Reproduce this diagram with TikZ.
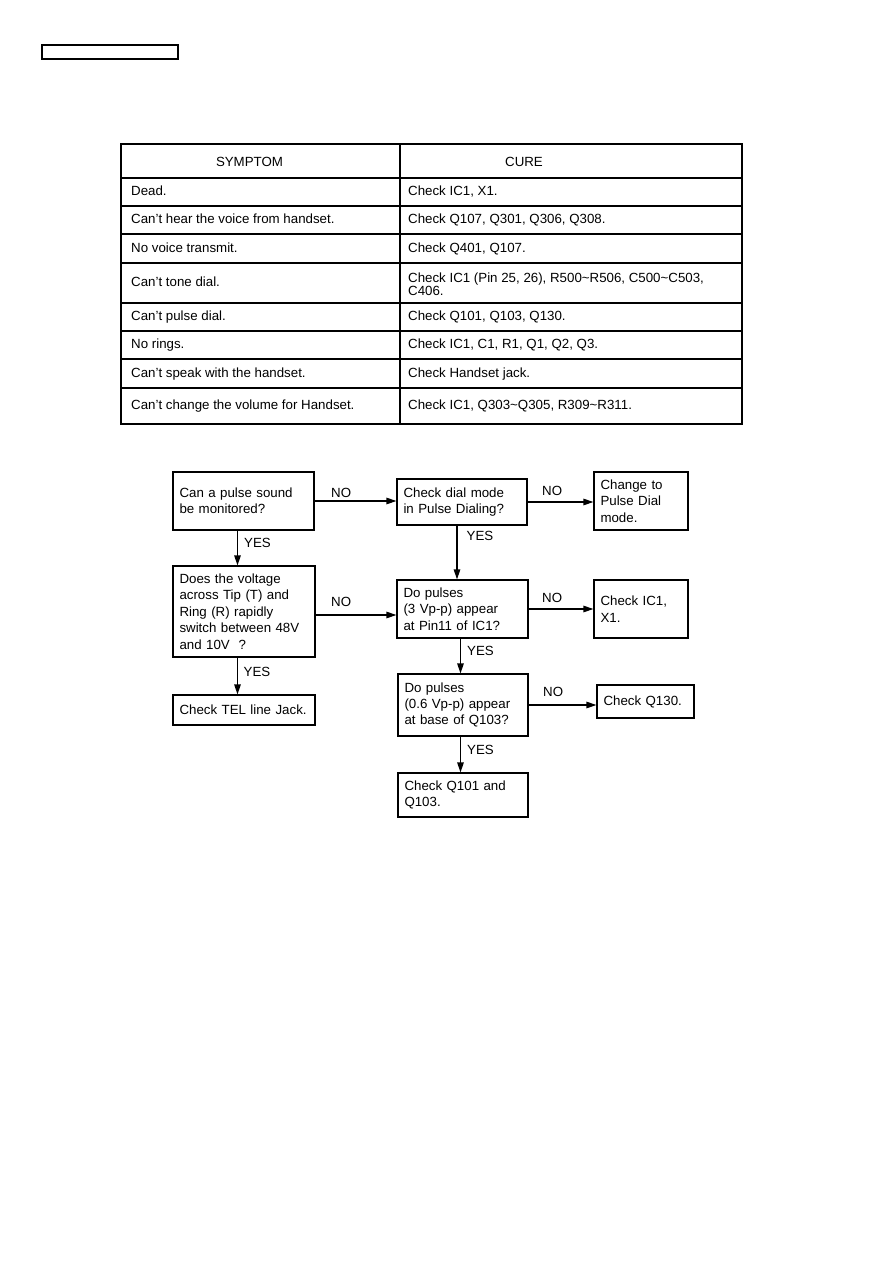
\documentclass[tikz,border=0pt]{standalone}
\usepackage{fontspec}
\setmainfont{Liberation Sans}
\usetikzlibrary{arrows.meta}
\newcommand\fsz{\fontsize{13.3}{16.4}\selectfont}
\begin{document}
\begin{tikzpicture}[x=1pt,y=-1pt,
  fbox/.style={draw, line width=1.2pt, inner xsep=6.5pt, inner ysep=0pt, align=left, font=\fsz},
  lbl/.style={inner sep=0pt, anchor=west, font=\fsz},
  cell/.style={lbl, text height=9.6pt, text depth=2.8pt},
  tline/.style={line width=1.1pt},
  arr/.style={line width=1.3pt, -{Triangle[length=10pt,width=6.5pt]}}]
\useasboundingbox (0,0) rectangle (893,1263);
% top-left empty box
\draw[line width=1.1pt] (42,45) rectangle (178,59);
% table
\draw[tline] (121,144) rectangle (742,424);
\draw[tline] (400,144) -- (400,424);
\foreach \yy in {178,206,234,263,303,331,359,388}
  \draw[tline] (121,\yy) -- (742,\yy);
\node[cell, anchor=center] (hs) at (249.5,163) {SYMPTOM};
\node[cell, anchor=center] (hc) at (524,163) {CURE};
\node[cell] (s1) at (131,192.5) {Dead.};
\node[cell] (s2) at (131,220.5) {Can't hear the voice from handset.};
\node[cell] (s3) at (131,249.5) {No voice transmit.};
\node[cell] (s4) at (131,283.5) {Can't tone dial.};
\node[cell] (s5) at (131,317.5) {Can't pulse dial.};
\node[cell] (s6) at (131,345.5) {No rings.};
\node[cell] (s7) at (131,374) {Can't speak with the handset.};
\node[cell] (s8) at (131,406.5) {Can't change the volume for Handset.};
\node[cell] (c1) at (408,192.5) {Check IC1, X1.};
\node[cell] (c2) at (408,220.5) {Check Q107, Q301, Q306, Q308.};
\node[cell] (c3) at (408,249.5) {Check Q401, Q107.};
\node[lbl, align=left, font=\fontsize{13.3}{11.2}\selectfont] (c4) at (408,284) {Check IC1 (Pin 25, 26), R500\textasciitilde R506, C500\textasciitilde C503,\\C406.};
\node[cell] (c5) at (408,317.5) {Check Q101, Q103, Q130.};
\node[cell] (c6) at (408,345.5) {Check IC1, C1, R1, Q1, Q2, Q3.};
\node[cell] (c7) at (408,374) {Check Handset jack.};
\node[cell] (c8) at (408,406.5) {Check IC1, Q303\textasciitilde Q305, R309\textasciitilde R311.};
% flowchart boxes
\node[fbox, text width=128pt, minimum height=58pt] (A) at (243.5,501) {Can a pulse sound\\be monitored?};
\node[fbox, text width=117pt, minimum height=46pt] (B) at (462,502) {Check dial mode\\in Pulse Dialing?};
\node[fbox, text width=81pt, minimum height=58pt] (C) at (641,501) {Change to\\Pulse Dial\\mode.};
\node[fbox, text width=129pt, minimum height=91pt] (D) at (244,611.5) {Does the voltage\\across Tip (T) and\\Ring (R) rapidly\\switch between 48V\\and 10V\ \ ?};
\node[fbox, text width=118pt, minimum height=58pt] (E) at (462.5,609) {Do pulses\\(3 Vp-p) appear\\at Pin11 of IC1?};
\node[fbox, text width=81pt, minimum height=58pt] (F) at (641,609) {Check IC1,\\X1.};
\node[fbox, text width=129pt, minimum height=30pt] (G) at (244,710) {Check TEL line Jack.};
\node[fbox, text width=117pt, minimum height=62pt] (H) at (463,705) {Do pulses\\(0.6 Vp-p) appear\\at base of Q103?};
\node[fbox, text width=84pt, minimum height=33pt] (I) at (645.5,701.5) {Check Q130.};
\node[fbox, text width=117pt, minimum height=44pt] (J) at (463,795) {Check Q101 and\\Q103.};
% arrow positions
\coordinate (xa) at (237.5,0);
\coordinate (xb) at (457,0);
\coordinate (xe) at (460.5,0);
\coordinate (yd) at (0,615);
% connectors
\draw[arr] (A.east) -- (A.east -| B.west);
\draw[arr] (B.east) -- (B.east -| C.west);
\draw[arr] (D.east |- yd) -- (E.west |- yd);
\draw[arr] (E.east) -- (E.east -| F.west);
\draw[arr] (H.east) -- (H.east -| I.west);
\draw[arr] (A.south -| xa) -- (D.north -| xa);
\draw[arr] (D.south -| xa) -- (G.north -| xa);
\draw[arr] (B.south -| xb) -- (E.north -| xb);
\draw[arr] (E.south -| xe) -- (H.north -| xe);
\draw[arr] (H.south -| xe) -- (J.north -| xe);
% labels
\node[lbl] (n1) at (331,493) {NO};
\node[lbl] (n2) at (542,491) {NO};
\node[lbl] (n3) at (331,602) {NO};
\node[lbl] (n4) at (542,598) {NO};
\node[lbl] (n5) at (543,692) {NO};
\node[lbl] (y1) at (244,543) {YES};
\node[lbl] (y2) at (466.5,536) {YES};
\node[lbl] (y3) at (243.5,672) {YES};
\node[lbl] (y4) at (467,651) {YES};
\node[lbl] (y5) at (467,750) {YES};
\end{tikzpicture}
\end{document}
